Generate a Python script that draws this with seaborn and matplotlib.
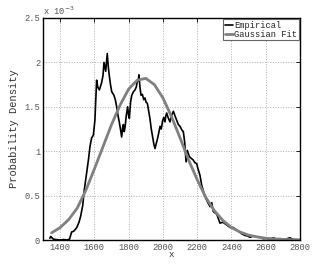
#import libraries
import numpy as np
import pandas as pd
import seaborn as sns
import matplotlib
matplotlib.use("Agg")
import matplotlib.pyplot as plt

# empirical density (values in units of 1e-3)
emp_x = [1340, 1345, 1350, 1360, 1375, 1400, 1420, 1440, 1455, 1467, 1480, 1497, 1510, 1520,
         1532, 1540, 1548, 1555, 1565, 1574, 1584, 1594, 1603, 1613, 1620, 1629, 1642, 1650,
         1656, 1666, 1675, 1681, 1687, 1694, 1701, 1714, 1722, 1730, 1738, 1745, 1752, 1759,
         1765, 1769, 1774, 1779, 1786, 1794, 1800, 1804, 1811, 1818, 1828, 1837, 1844, 1850,
         1856, 1860, 1866, 1872, 1880, 1888, 1895, 1902, 1909, 1917, 1924, 1932, 1940, 1947,
         1954, 1960, 1967, 1975, 1983, 1990, 1999, 2005, 2012, 2017, 2022, 2030, 2041, 2050,
         2061, 2070, 2080, 2090, 2100, 2110, 2119, 2127, 2135, 2142, 2154, 2165, 2177, 2187,
         2197, 2205, 2216, 2226, 2245, 2260, 2275, 2285, 2294, 2314, 2333, 2350, 2372, 2392,
         2411, 2425, 2440, 2460, 2480, 2495, 2508, 2527, 2545, 2566, 2585, 2605, 2625, 2644,
         2663, 2683, 2710, 2741, 2760, 2780]
emp_y = [0.02, 0.04, 0.03, 0.01, 0.005, 0.0, 0.005, 0.0, 0.01, 0.09, 0.10, 0.14, 0.20, 0.27,
         0.39, 0.55, 0.66, 0.75, 0.90, 1.05, 1.15, 1.18, 1.35, 1.80, 1.72, 1.69, 1.77, 1.85,
         2.00, 1.90, 2.10, 1.95, 1.85, 1.75, 1.67, 1.63, 1.58, 1.50, 1.40, 1.33, 1.25, 1.16,
         1.27, 1.30, 1.22, 1.27, 1.40, 1.50, 1.40, 1.37, 1.55, 1.63, 1.67, 1.69, 1.72, 1.78,
         1.80, 1.86, 1.72, 1.63, 1.64, 1.58, 1.60, 1.55, 1.54, 1.45, 1.37, 1.25, 1.16, 1.08,
         1.03, 1.08, 1.13, 1.20, 1.28, 1.25, 1.35, 1.38, 1.33, 1.40, 1.43, 1.38, 1.33, 1.40,
         1.45, 1.40, 1.35, 1.30, 1.28, 1.24, 1.22, 1.10, 0.88, 1.01, 0.94, 0.92, 0.90, 0.87,
         0.86, 0.80, 0.73, 0.62, 0.49, 0.43, 0.375, 0.42, 0.32, 0.29, 0.19, 0.20, 0.17, 0.14,
         0.14, 0.12, 0.10, 0.07, 0.05, 0.045, 0.03, 0.045, 0.035, 0.03, 0.015, 0.02, 0.01, 0.025,
         0.01, 0.015, 0.005, 0.025, 0.005, 0.005]

# gaussian fit curve (units of 1e-3)
fit_x = [1350, 1400, 1450, 1500, 1550, 1600, 1650, 1700, 1750, 1800, 1850, 1900, 1950, 2000,
         2050, 2100, 2150, 2200, 2250, 2300, 2350, 2400, 2450, 2500, 2550, 2600, 2650, 2700,
         2750, 2800]
fit_y = [0.08, 0.14, 0.23, 0.36, 0.56, 0.80, 1.05, 1.30, 1.52, 1.70, 1.80, 1.82, 1.75, 1.60,
         1.39, 1.15, 0.90, 0.68, 0.48, 0.33, 0.22, 0.14, 0.09, 0.055, 0.035, 0.02, 0.012, 0.007,
         0.004, 0.002]

y_ticks = [0, 0.5, 1, 1.5, 2, 2.5]
x_ticks = [1400, 1600, 1800, 2000, 2200, 2400, 2600, 2800]

emp = pd.DataFrame({"x": emp_x, "y": emp_y})
fit = pd.DataFrame({"x": fit_x, "y": fit_y})

sns.set_style("white")
plt.rcParams["font.family"] = ["Liberation Mono", "DejaVu Sans Mono"]
plt.rcParams["font.size"] = 6

fig = plt.figure(figsize=(3.32, 2.70), dpi=100)
ax = fig.add_axes([43 / 332, 30 / 270, 257 / 332, 222 / 270])

sns.lineplot(data=emp, x="x", y="y", ax=ax, color="black", lw=1.2, label="Empirical")
sns.lineplot(data=fit, x="x", y="y", ax=ax, color="#808080", lw=2.0, label="Gaussian Fit")

ax.set_xlim(1300, 2800)
ax.set_ylim(0, 2.5)
ax.set_xticks(x_ticks)
ax.set_yticks(y_ticks)
ax.set_yticklabels(["%g" % t for t in y_ticks])
ax.tick_params(direction="in", length=3, width=0.6, top=True, right=True,
               labelsize=6.3, colors="black", labelcolor="#555555", pad=2)
ax.grid(True, linestyle=":", color="#b0b0b0", lw=0.7)
for s in ax.spines.values():
    s.set_color("black")
    s.set_linewidth(1.0)

ax.set_xlabel("x", fontsize=6.5, labelpad=-1, color="#333333")
ax.set_ylabel("Probability Density", fontsize=7.5, labelpad=4, color="#333333")
ax.text(0.0, 1.005, "x 10$^{-3}$", transform=ax.transAxes, fontsize=6.3,
        color="#555555", ha="left", va="bottom")

leg = ax.legend(loc="upper right", fontsize=6.3, handlelength=1.0, handletextpad=0.1,
                borderpad=0.2, labelspacing=0.0, fancybox=False, framealpha=1,
                borderaxespad=0.1)
leg.get_frame().set_edgecolor("#666666")
leg.get_frame().set_linewidth(0.8)

fig.savefig("out.png", dpi=100)
